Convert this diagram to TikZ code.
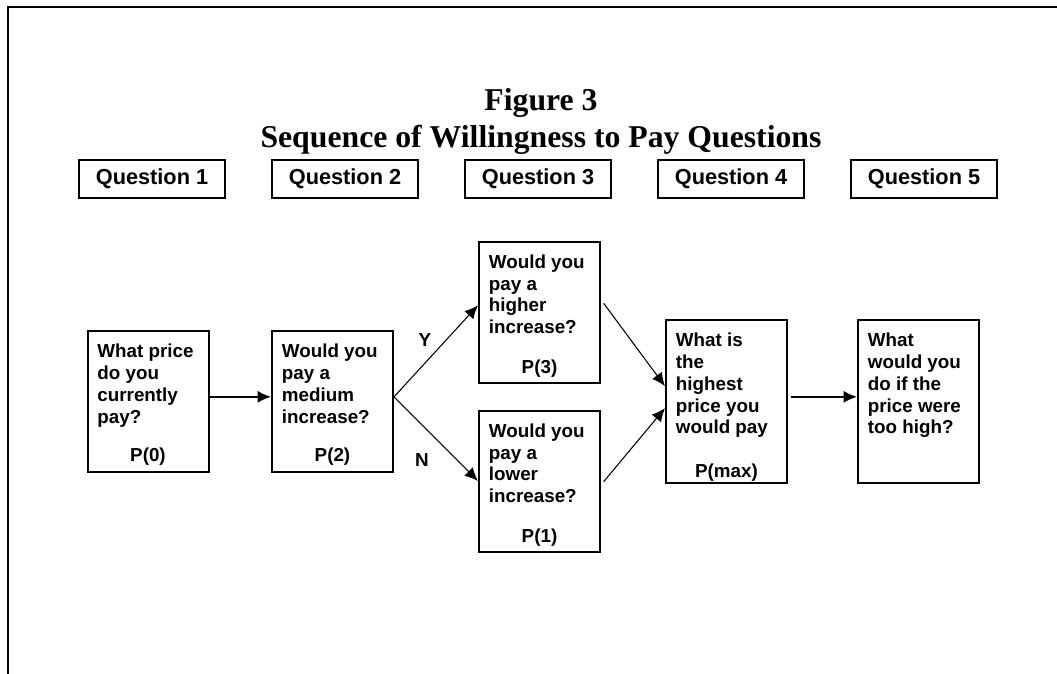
\documentclass[tikz,border=0pt]{standalone}
\usepackage{fontspec}
\setmainfont{Liberation Serif}
\setsansfont{Liberation Sans}
\usetikzlibrary{arrows.meta}

\begin{document}
\begin{tikzpicture}[x=0.75pt,y=-0.75pt,
  qhead/.style={draw,line width=1.5pt,minimum width=109.5pt,minimum height=28.5pt,inner sep=0pt,
    font=\sffamily\bfseries\fontsize{16.3}{19}\selectfont},
  qbox/.style={draw,line width=1.5pt,minimum width=90.75pt,minimum height=105.75pt,inner sep=0pt},
  tallbox/.style={qbox,minimum height=122.25pt},
  qtext/.style={anchor=north west,inner sep=0pt,align=left,
    font=\sffamily\bfseries\fontsize{14.1}{16.3}\selectfont},
  ptext/.style={inner sep=0pt,font=\sffamily\bfseries\fontsize{14.1}{16.3}\selectfont},
  arr/.style={-{Latex[length=10pt,width=9pt]},line width=0.8pt},
  hway/.style={arr,line width=1.2pt}]
\useasboundingbox (0,0) rectangle (1057,674);

% cornice
\draw[line width=1.5pt] (8,674) -- (8,7) -- (1057,7);

% titolo
\node (title) at (541,121.5) [align=center,font=\bfseries\fontsize{23.8}{27.75}\selectfont]
  {Figure 3\\Sequence of Willingness to Pay Questions};

% intestazioni
\node[qhead] (head1) at (152,179) {Question 1};
\node[qhead] (head2) at (345,179) {Question 2};
\node[qhead] (head3) at (538,179) {Question 3};
\node[qhead] (head4) at (731,179) {Question 4};
\node[qhead] (head5) at (924,179) {Question 5};

% riquadri domande
\node[qbox] (p0) at (148,401.5) {};
\node[qbox] (p2) at (332.5,401.5) {};
\node[qbox] (p3) at (539.5,312) {};
\node[qbox] (p1) at (539.5,481) {};
\node[tallbox] (pmax) at (726.5,401.5) {};
\node[tallbox] (q5) at (918.5,401.5) {};

\node[qtext] (t0) at ([xshift=8pt,yshift=-10.5pt]p0.north west) {What price\\do you\\currently\\pay?};
\node[qtext] (t2) at ([xshift=8pt,yshift=-10.5pt]p2.north west) {Would you\\pay a\\medium\\increase?};
\node[qtext] (t3) at ([xshift=8pt,yshift=-10.5pt]p3.north west) {Would you\\pay a\\higher\\increase?};
\node[qtext] (t1) at ([xshift=8pt,yshift=-10.5pt]p1.north west) {Would you\\pay a\\lower\\increase?};
\node[qtext] (tmax) at ([xshift=8pt,yshift=-10.5pt]pmax.north west) {What is\\the\\highest\\price you\\would pay};
\node[qtext] (t5) at ([xshift=8pt,yshift=-10.5pt]q5.north west) {What\\would you\\do if the\\price were\\too high?};

\node[ptext] (l0) at ([yshift=12.5pt]p0.south) {P(0)};
\node[ptext] (l2) at ([yshift=12.5pt]p2.south) {P(2)};
\node[ptext] (l3) at ([yshift=11.5pt]p3.south) {P(3)};
\node[ptext] (l1) at ([yshift=11.5pt]p1.south) {P(1)};
\node[ptext] (lmax) at ([yshift=8.5pt]pmax.south) {P(max)};

\node[ptext] (yes) at (425,340) {Y};
\node[ptext] (no) at (422,460) {N};

% frecce
\draw[hway] ([yshift=3.5pt]p0.east) -- ([yshift=3.5pt]p2.west);
\draw[arr] ([yshift=3.5pt]p2.east) -- ([yshift=5pt]p3.west);
\draw[arr] ([yshift=3.5pt]p2.east) -- (p1.west);
\draw[arr] ([xshift=2pt,yshift=6.5pt]p3.east) -- ([yshift=11.5pt]pmax.west);
\draw[arr] ([xshift=2pt,yshift=-0.5pt]p1.east) -- ([yshift=-5pt]pmax.west);
\draw[hway] ([xshift=2pt,yshift=3.5pt]pmax.east) -- ([yshift=3.5pt]q5.west);

\end{tikzpicture}
\end{document}
